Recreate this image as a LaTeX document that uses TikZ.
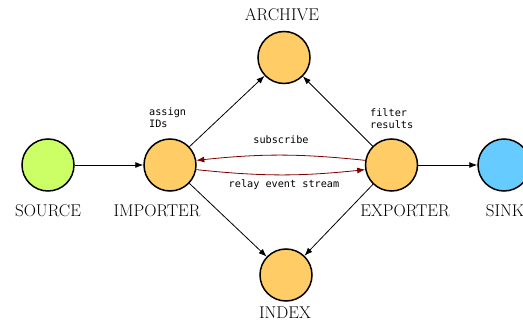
\documentclass[tikz,border=0pt]{standalone}
\usepackage{fontspec}
\setmonofont{DejaVu Sans Mono}
\usetikzlibrary{arrows.meta}
\definecolor{cgreen}{RGB}{204,255,102}
\definecolor{corange}{RGB}{255,204,102}
\definecolor{cblue}{RGB}{102,204,255}
\definecolor{cred}{RGB}{128,0,0}
\begin{document}
\begin{tikzpicture}[x=1pt,y=-1pt,
  comp/.style={circle,draw=black,line width=1.5pt,minimum size=52pt,inner sep=0pt},
  lbl/.style={inner sep=0pt,font=\fontsize{17}{20}\selectfont},
  note/.style={inner sep=0pt,align=left,font=\fontsize{10.2}{12}\selectfont\ttfamily},
  edge/.style={-{Latex[length=8pt,width=6pt]},line width=0.8pt,black},
  redge/.style={-{Latex[length=8pt,width=6pt]},line width=0.8pt,cred}]
\useasboundingbox (0,0) rectangle (523,321);
\node[comp,fill=cgreen] (source) at (48,165) {};
\node[comp,fill=corange] (importer) at (170,165) {};
\node[comp,fill=corange] (exporter) at (391.5,165) {};
\node[comp,fill=cblue] (sink) at (504,165) {};
\node[comp,fill=corange] (archive) at (284,57.5) {};
\node[comp,fill=corange] (index) at (286,275) {};
\node[lbl] (lsource) at (48,211) {SOURCE};
\node[lbl] (limporter) at (157,211) {IMPORTER};
\node[lbl] (lexporter) at (405,211) {EXPORTER};
\node[lbl] (lsink) at (505,211) {SINK};
\node[lbl] (larchive) at (282,14.5) {ARCHIVE};
\node[lbl] (lindex) at (285,313) {INDEX};
\node[note,anchor=north west] (nassign) at (149,108) {assign\\IDs};
\node[note,anchor=north west] (nfilter) at (370,108) {filter\\results};
\node[note,anchor=base] (nsub) at (281,143) {subscribe};
\node[note,anchor=base] (nrelay) at (284,188) {relay event stream};
\draw[edge] (source) -- (importer);
\draw[edge] (exporter) -- (sink);
\draw[edge] (importer) -- (archive);
\draw[edge] (importer) -- (index);
\draw[edge] (exporter) -- (archive);
\draw[edge] (exporter) -- (index);
\draw[redge] (exporter.170) to[bend right=6] (importer.10);
\draw[redge] (importer.-10) to[bend right=6] (exporter.190);
\end{tikzpicture}
\end{document}
